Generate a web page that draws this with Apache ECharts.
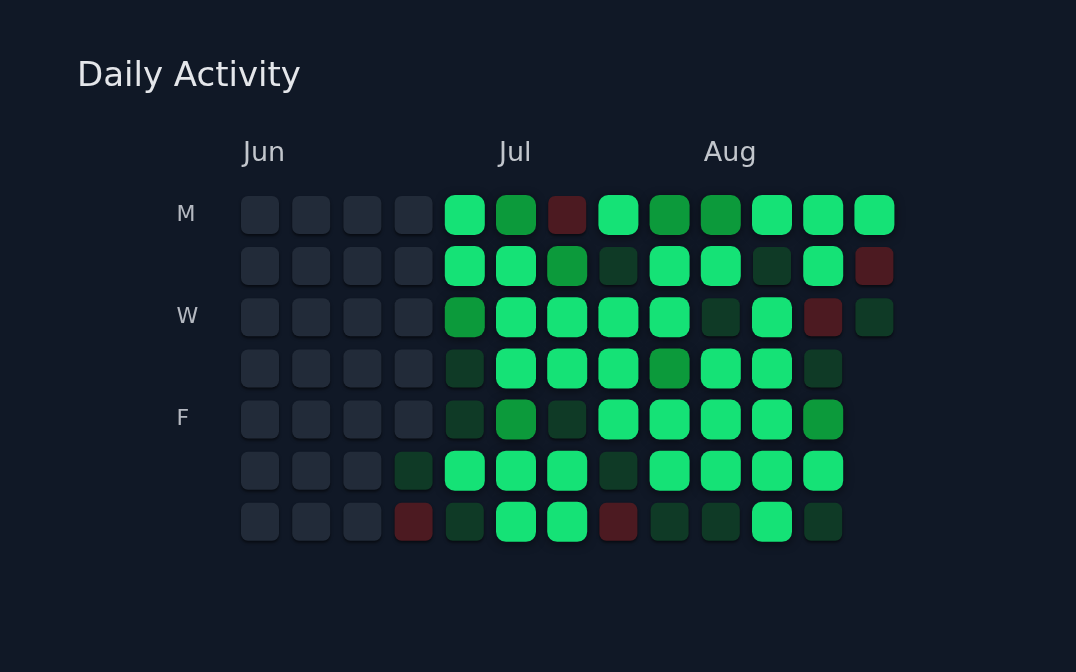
<!DOCTYPE html>
<html>
<head>
<meta charset="utf-8">
<script src="https://cdn.jsdelivr.net/npm/echarts@6/dist/echarts.min.js"></script>
<style>
html,body{margin:0;padding:0;background:#101826;}
#c{width:1076px;height:672px;}
</style>
</head>
<body>
<div id="c"></div>
<script>
// levels: -1 = missed (red), 0 = no activity, 1 = low, 2 = medium, 3 = high, null = no day
const weeks = ['W1','W2','W3','W4','W5','W6','W7','W8','W9','W10','W11','W12','W13'];
const monthLabels = ['Jun','','','','','Jul','','','','Aug','','',''];
const dayLabels = ['M','','W','','F','',''];
const mon = [0,0,0,0,3,2,-1,3,2,2,3,3,3];
const tue = [0,0,0,0,3,3,2,1,3,3,1,3,-1];
const wed = [0,0,0,0,2,3,3,3,3,1,3,-1,1];
const thu = [0,0,0,0,1,3,3,3,2,3,3,1,null];
const fri = [0,0,0,0,1,2,1,3,3,3,3,2,null];
const sat = [0,0,0,1,3,3,3,1,3,3,3,3,null];
const sun = [0,0,0,-1,1,3,3,-1,1,1,3,1,null];
const days = [mon,tue,wed,thu,fri,sat,sun];

const levelColor = {'-1':'#4c1a21','0':'#222b39','1':'#0f3a26','2':'#0c9a3b','3':'#15e276'};

const data = [];
days.forEach((row, d) => row.forEach((v, w) => { if (v !== null) data.push([w, d, v]); }));

const chart = echarts.init(document.getElementById('c'));
chart.setOption({
  backgroundColor: '#101826',
  title: {
    text: 'Daily Activity',
    left: 72, top: 55,
    textStyle: {color: '#e4e6ea', fontSize: 34, fontWeight: 'normal', fontFamily: 'DejaVu Sans'}
  },
  grid: {left: 234.4, top: 189.4, width: 665.6, height: 358},
  xAxis: {
    type: 'category', data: weeks, position: 'top',
    axisLine: {show: false}, axisTick: {show: false}, splitLine: {show: false},
    axisLabel: {
      interval: 0, margin: 22, align: 'left',
      formatter: (v, i) => monthLabels[i],
      color: '#c2c6cc', fontSize: 27, fontFamily: 'DejaVu Sans',
      padding: [0, 0, 0, -17]
    }
  },
  yAxis: {
    type: 'category', data: dayLabels, inverse: true,
    axisLine: {show: false}, axisTick: {show: false}, splitLine: {show: false},
    axisLabel: {interval: 0, margin: 58, align: 'left', color: '#b4b8c0', fontSize: 22, fontFamily: 'DejaVu Sans',
      padding: [6, 0, 0, 0]}
  },
  series: [{
    type: 'custom',
    data: data,
    renderItem: function (params, api) {
      const p = api.coord([api.value(0), api.value(1)]);
      const lvl = api.value(2);
      const s = lvl >= 2 ? 40 : 38;
      return {
        type: 'rect',
        shape: {x: p[0] - s / 2, y: p[1] - s / 2, width: s, height: s, r: lvl >= 2 ? 10 : 7},
        style: {
          fill: levelColor[String(lvl)],
          shadowBlur: lvl >= 2 ? 10 : 3,
          shadowColor: 'rgba(0,0,0,0.55)',
          shadowOffsetY: 2
        }
      };
    }
  }]
});
</script>
</body>
</html>
